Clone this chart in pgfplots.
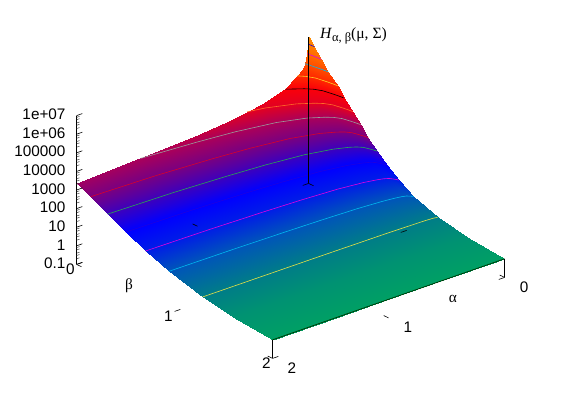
\documentclass[border=0pt]{standalone}
\usepackage{fontspec}
\setmainfont{Liberation Sans}
\newfontfamily\serifl{Liberation Serif}
\usepackage{pgfplots}
\usepackage{pgfplotstable}
\pgfplotsset{compat=1.18}
\pgfplotstableread[row sep=\\]{
a b H L\\
0 0 7080000 6.85\\ 0.004 0 3162000 6.5\\ 0.012 0 1000000 6\\ 0.03 0 316200 5.5\\ 0.06 0 177800 5.25\\ 0.1 0 100000 5\\ 0.2 0 31620 4.5\\ 0.4 0 13180 4.12\\ 0.53 0 10000 4\\ 0.7 0 7079 3.85\\ 1 0 4786 3.68\\ 1.45 0 3162 3.5\\ 2 0 2512 3.4\\
0 0.06 3162000 6.5\\ 0.004 0 3162000 6.5\\ 0.012 0 1000000 6\\ 0.03 0 316200 5.5\\ 0.06 0 177800 5.25\\ 0.1 0 100000 5\\ 0.2 0 31620 4.5\\ 0.4 0 13180 4.12\\ 0.53 0 10000 4\\ 0.7 0 7079 3.85\\ 1 0 4786 3.68\\ 1.45 0 3162 3.5\\ 2 0 2512 3.4\\
0 0.13 1000000 6\\ 0.004 0.074 1000000 6\\ 0.012 0 1000000 6\\ 0.03 0 316200 5.5\\ 0.06 0 177800 5.25\\ 0.1 0 100000 5\\ 0.2 0 31620 4.5\\ 0.4 0 13180 4.12\\ 0.53 0 10000 4\\ 0.7 0 7079 3.85\\ 1 0 4786 3.68\\ 1.45 0 3162 3.5\\ 2 0 2512 3.4\\
0 0.2 316200 5.5\\ 0.004 0.157 316200 5.5\\ 0.012 0.1 316200 5.5\\ 0.03 0 316200 5.5\\ 0.06 0 177800 5.25\\ 0.1 0 100000 5\\ 0.2 0 31620 4.5\\ 0.4 0 13180 4.12\\ 0.53 0 10000 4\\ 0.7 0 7079 3.85\\ 1 0 4786 3.68\\ 1.45 0 3162 3.5\\ 2 0 2512 3.4\\
0 0.296 100000 5\\ 0.004 0.256 100000 5\\ 0.012 0.202 100000 5\\ 0.03 0.108 100000 5\\ 0.06 0.047 100000 5\\ 0.1 0 100000 5\\ 0.2 0 31620 4.5\\ 0.4 0 13180 4.12\\ 0.53 0 10000 4\\ 0.7 0 7079 3.85\\ 1 0 4786 3.68\\ 1.45 0 3162 3.5\\ 2 0 2512 3.4\\
0 0.357 31620 4.5\\ 0.004 0.319 31620 4.5\\ 0.012 0.268 31620 4.5\\ 0.03 0.179 31620 4.5\\ 0.06 0.121 31620 4.5\\ 0.1 0.077 31620 4.5\\ 0.2 0 31620 4.5\\ 0.4 0 13180 4.12\\ 0.53 0 10000 4\\ 0.7 0 7079 3.85\\ 1 0 4786 3.68\\ 1.45 0 3162 3.5\\ 2 0 2512 3.4\\
0 0.45 10000 4\\ 0.004 0.414 10000 4\\ 0.012 0.366 10000 4\\ 0.03 0.282 10000 4\\ 0.06 0.228 10000 4\\ 0.1 0.186 10000 4\\ 0.2 0.114 10000 4\\ 0.4 0.03 10000 4\\ 0.53 0 10000 4\\ 0.7 0 7079 3.85\\ 1 0 4786 3.68\\ 1.45 0 3162 3.5\\ 2 0 2512 3.4\\
0 0.53 3162 3.5\\ 0.004 0.497 3162 3.5\\ 0.012 0.452 3162 3.5\\ 0.03 0.375 3162 3.5\\ 0.06 0.325 3162 3.5\\ 0.1 0.286 3162 3.5\\ 0.2 0.219 3162 3.5\\ 0.4 0.142 3162 3.5\\ 0.53 0.114 3162 3.5\\ 0.7 0.08 3162 3.5\\ 1 0.042 3162 3.5\\ 1.45 0 3162 3.5\\ 2 0 2512 3.4\\
0 0.61 1000 3\\ 0.004 0.582 1000 3\\ 0.012 0.545 1000 3\\ 0.03 0.479 1000 3\\ 0.06 0.437 1000 3\\ 0.1 0.405 1000 3\\ 0.2 0.348 1000 3\\ 0.4 0.283 1000 3\\ 0.53 0.26 1000 3\\ 0.7 0.232 1000 3\\ 1 0.199 1000 3\\ 1.45 0.164 1000 3\\ 2 0.143 1000 3\\
0 0.7 316.2 2.5\\ 0.004 0.677 316.2 2.5\\ 0.012 0.646 316.2 2.5\\ 0.03 0.592 316.2 2.5\\ 0.06 0.558 316.2 2.5\\ 0.1 0.531 316.2 2.5\\ 0.2 0.485 316.2 2.5\\ 0.4 0.431 316.2 2.5\\ 0.53 0.412 316.2 2.5\\ 0.7 0.389 316.2 2.5\\ 1 0.362 316.2 2.5\\ 1.45 0.333 316.2 2.5\\ 2 0.316 316.2 2.5\\
0 0.8 100 2\\ 0.004 0.782 100 2\\ 0.012 0.758 100 2\\ 0.03 0.716 100 2\\ 0.06 0.689 100 2\\ 0.1 0.668 100 2\\ 0.2 0.632 100 2\\ 0.4 0.59 100 2\\ 0.53 0.575 100 2\\ 0.7 0.557 100 2\\ 1 0.536 100 2\\ 1.45 0.514 100 2\\ 2 0.5 100 2\\
0 0.918 31.62 1.5\\ 0.004 0.905 31.62 1.5\\ 0.012 0.888 31.62 1.5\\ 0.03 0.858 31.62 1.5\\ 0.06 0.839 31.62 1.5\\ 0.1 0.824 31.62 1.5\\ 0.2 0.798 31.62 1.5\\ 0.4 0.768 31.62 1.5\\ 0.53 0.758 31.62 1.5\\ 0.7 0.745 31.62 1.5\\ 1 0.73 31.62 1.5\\ 1.45 0.714 31.62 1.5\\ 2 0.704 31.62 1.5\\
0 1.07 10 1\\ 0.004 1.062 10 1\\ 0.012 1.052 10 1\\ 0.03 1.034 10 1\\ 0.06 1.022 10 1\\ 0.1 1.013 10 1\\ 0.2 0.997 10 1\\ 0.4 0.979 10 1\\ 0.53 0.973 10 1\\ 0.7 0.965 10 1\\ 1 0.956 10 1\\ 1.45 0.946 10 1\\ 2 0.94 10 1\\
0 1.316 3.162 0.5\\ 0.004 1.314 3.162 0.5\\ 0.012 1.312 3.162 0.5\\ 0.03 1.308 3.162 0.5\\ 0.06 1.305 3.162 0.5\\ 0.1 1.303 3.162 0.5\\ 0.2 1.299 3.162 0.5\\ 0.4 1.295 3.162 0.5\\ 0.53 1.294 3.162 0.5\\ 0.7 1.292 3.162 0.5\\ 1 1.29 3.162 0.5\\ 1.45 1.287 3.162 0.5\\ 2 1.286 3.162 0.5\\
0 1.62 1.585 0.2\\ 0.004 1.619 1.585 0.2\\ 0.012 1.617 1.585 0.2\\ 0.03 1.614 1.585 0.2\\ 0.06 1.613 1.585 0.2\\ 0.1 1.611 1.585 0.2\\ 0.2 1.609 1.585 0.2\\ 0.4 1.606 1.585 0.2\\ 0.53 1.605 1.585 0.2\\ 0.7 1.604 1.585 0.2\\ 1 1.602 1.585 0.2\\ 1.45 1.601 1.585 0.2\\ 2 1.6 1.585 0.2\\
0 2 1 0\\ 0.004 2 1 0\\ 0.012 2 1 0\\ 0.03 2 1 0\\ 0.06 2 1 0\\ 0.1 2 1 0\\ 0.2 2 1 0\\ 0.4 2 1 0\\ 0.53 2 1 0\\ 0.7 2 1 0\\ 1 2 1 0\\ 1.45 2 1 0\\ 2 2 1 0\\
}\surfacetable
\definecolor{cya}{RGB}{230,225,70}
\definecolor{cyb}{RGB}{0,185,240}
\definecolor{cyc}{RGB}{225,0,225}
\definecolor{cyd}{RGB}{30,0,225}
\definecolor{cye}{RGB}{40,165,85}
\definecolor{cyf}{RGB}{215,0,45}
\definecolor{cyg}{RGB}{155,155,155}
\definecolor{cyh}{RGB}{255,105,40}
\definecolor{cyi}{RGB}{255,205,40}
\begin{document}
\begin{tikzpicture}[x=1pt,y=1pt]
\useasboundingbox (0,0) rectangle (581,407);
\begin{axis}[
  at={(76.6pt,48.6pt)},anchor=south west,
  x={(-116pt,-40.5pt)},y={(98pt,-47pt)},z={(0pt,8.078pt)},
  zmode=log,
  xmin=0,xmax=2,ymin=0,ymax=2,zmin=0.1,zmax=1e7,
  clip=false,
  axis line style={draw=none},
  xtick={0,1,2},xticklabels={0,1,2},
  ytick={0,1,2},yticklabels={0,1,2},
  ztick={0.1,1,10,100,1000,10000,100000,1000000,10000000},
  zticklabels={0.1,1,10,100,1000,10000,100000,1e+06,1e+07},
  ztick pos=left,
  tick style={draw=none},
  major tick length=6pt,
  tick label style={font=\fontsize{15.3}{18}\selectfont},
  x tick label style={xshift=13.4pt},
  y tick label style={xshift=0.4pt,yshift=5pt},
  z tick label style={xshift=-7.6pt},
  colormap={hmap}{rgb255(0)=(0,160,100) rgb255(50)=(0,125,135) rgb255(100)=(0,85,185) rgb255(150)=(0,30,230) rgb255(200)=(0,0,255) rgb255(250)=(60,0,190) rgb255(300)=(120,0,130) rgb255(350)=(170,0,90) rgb255(400)=(225,0,35) rgb255(450)=(250,0,10) rgb255(500)=(255,40,0) rgb255(550)=(255,75,0) rgb255(600)=(255,105,0) rgb255(685)=(255,140,0)},
  point meta min=0,point meta max=6.85,
  z buffer=none,
]
\addplot3[surf,shader=interp,mesh/rows=16,mesh/cols=13,mesh/ordering=x varies,point meta=\thisrow{L}]
  table[x=a,y=b,z=H] {\surfacetable};
\addplot3[cya,line width=.6pt] coordinates {(0,1.316,3.162)(0.03,1.308,3.162)(0.1,1.303,3.162)(0.4,1.295,3.162)(1,1.29,3.162)(2,1.286,3.162)};
\addplot3[cyb,line width=.6pt] coordinates {(0,1.07,10)(0.004,1.062,10)(0.012,1.052,10)(0.03,1.034,10)(0.06,1.022,10)(0.1,1.013,10)(0.2,0.997,10)(0.4,0.979,10)(0.7,0.965,10)(1,0.956,10)(1.45,0.946,10)(2,0.94,10)};
\addplot3[cyc,line width=.6pt] coordinates {(0,0.918,31.62)(0.004,0.905,31.62)(0.012,0.888,31.62)(0.03,0.858,31.62)(0.06,0.839,31.62)(0.1,0.824,31.62)(0.2,0.798,31.62)(0.4,0.768,31.62)(0.7,0.745,31.62)(1,0.73,31.62)(1.45,0.714,31.62)(2,0.704,31.62)};
\addplot3[cyd,line width=.6pt] coordinates {(0,0.8,100)(0.004,0.782,100)(0.012,0.758,100)(0.03,0.716,100)(0.06,0.689,100)(0.1,0.668,100)(0.2,0.632,100)(0.4,0.59,100)(0.7,0.557,100)(1,0.536,100)(1.45,0.514,100)(2,0.5,100)};
\addplot3[cye,line width=.6pt] coordinates {(0,0.7,316.2)(0.004,0.677,316.2)(0.012,0.646,316.2)(0.03,0.592,316.2)(0.06,0.558,316.2)(0.1,0.531,316.2)(0.2,0.485,316.2)(0.4,0.431,316.2)(0.7,0.389,316.2)(1,0.362,316.2)(1.45,0.333,316.2)(2,0.316,316.2)};
\addplot3[cyf,line width=.6pt] coordinates {(0,0.61,1000)(0.004,0.582,1000)(0.012,0.545,1000)(0.03,0.479,1000)(0.06,0.437,1000)(0.1,0.405,1000)(0.2,0.348,1000)(0.4,0.283,1000)(0.7,0.232,1000)(1,0.199,1000)(1.45,0.164,1000)(2,0.143,1000)};
\addplot3[cyg,line width=.6pt] coordinates {(0,0.53,3162)(0.004,0.497,3162)(0.012,0.452,3162)(0.03,0.375,3162)(0.06,0.325,3162)(0.1,0.286,3162)(0.2,0.219,3162)(0.4,0.142,3162)(0.7,0.08,3162)(1,0.042,3162)(1.45,0,3162)};
\addplot3[cyh,line width=.6pt] coordinates {(0,0.45,10000)(0.004,0.414,10000)(0.012,0.366,10000)(0.03,0.282,10000)(0.06,0.228,10000)(0.1,0.186,10000)(0.2,0.114,10000)(0.4,0.03,10000)(0.53,0,10000)};
\addplot3[black,line width=.6pt] coordinates {(0,0.357,31620)(0.004,0.319,31620)(0.012,0.268,31620)(0.03,0.179,31620)(0.06,0.121,31620)(0.1,0.077,31620)(0.2,0,31620)};
\addplot3[cyi,line width=.6pt] coordinates {(0,0.296,100000)(0.004,0.256,100000)(0.012,0.202,100000)(0.03,0.108,100000)(0.06,0.047,100000)(0.1,0,100000)};
\addplot3[cyb,line width=.6pt] coordinates {(0,0.2,316200)(0.004,0.157,316200)(0.012,0.1,316200)(0.03,0,316200)};
\addplot3[cyc,line width=.6pt] coordinates {(0,0.13,1000000)(0.004,0.074,1000000)(0.012,0,1000000)};
\addplot3[cyd,line width=.6pt] coordinates {(0,0.06,3162000)(0.004,0,3162000)};
\addplot3[black!80!green,line width=.7pt] coordinates {(0,2,1)(2,2,1)};
\addplot3[black,line width=.7pt] coordinates {(2,2,0.1)(2,2,1)};
\addplot3[black,line width=.7pt] coordinates {(0,2,0.1)(0,2,1)};
\addplot3[black,line width=.7pt] coordinates {(0,0,0.1)(0,0,7080000)};
\addplot3[black,line width=.8pt] coordinates {(2,0,0.1)(2,0,10000000)};
% x ticks on both edges of the base
\addplot3[black,line width=.6pt] coordinates {(0,2,0.1)(0,1.95,0.1)};
\addplot3[black,line width=.6pt] coordinates {(1,2,0.1)(1,1.95,0.1)};
\addplot3[black,line width=.6pt] coordinates {(2,2,0.1)(2,1.95,0.1)};
\addplot3[black,line width=.6pt] coordinates {(0,0,0.1)(0,0.05,0.1)};
\addplot3[black,line width=.6pt] coordinates {(1,0,0.1)(1,0.05,0.1)};
\addplot3[black,line width=.6pt] coordinates {(2,0,0.1)(2,0.05,0.1)};
% y ticks on both edges of the base
\addplot3[black,line width=.6pt] coordinates {(2,0,0.1)(1.95,0,0.1)};
\addplot3[black,line width=.6pt] coordinates {(2,1,0.1)(1.95,1,0.1)};
\addplot3[black,line width=.6pt] coordinates {(2,2,0.1)(1.95,2,0.1)};
\addplot3[black,line width=.6pt] coordinates {(0,0,0.1)(0.05,0,0.1)};
\addplot3[black,line width=.6pt] coordinates {(0,1,0.1)(0.05,1,0.1)};
\addplot3[black,line width=.6pt] coordinates {(0,2,0.1)(0.05,2,0.1)};
% z ticks
\pgfplotsinvokeforeach{0.1,1,10,100,1000,10000,100000,1000000,10000000}{
  \addplot3[black,line width=.6pt] coordinates {(2,0,#1)(1.95,0,#1)};
}
\pgfplotsinvokeforeach{0.1,1,10,100,1000,10000,100000,1000000}{
  \addplot3[black!75,line width=.5pt] coordinates {(2,0,2*#1)(1.975,0,2*#1)};
  \addplot3[black!75,line width=.5pt] coordinates {(2,0,3*#1)(1.975,0,3*#1)};
  \addplot3[black!75,line width=.5pt] coordinates {(2,0,4*#1)(1.975,0,4*#1)};
  \addplot3[black!75,line width=.5pt] coordinates {(2,0,6*#1)(1.975,0,6*#1)};
  \addplot3[black!75,line width=.5pt] coordinates {(2,0,8*#1)(1.975,0,8*#1)};
}
\end{axis}
\node[font=\fontsize{15.3}{18}\selectfont\serifl] at (453,108) {α};
\node[font=\fontsize{15.3}{18}\selectfont\serifl] at (129,121) {β};
\node[font=\fontsize{15.6}{18}\selectfont\serifl,anchor=west] at (316.5,371) {\textit{H}\raisebox{-3pt}{\fontsize{12.5}{14}\selectfont α, β}(μ, Σ)};
\end{tikzpicture}
\end{document}
